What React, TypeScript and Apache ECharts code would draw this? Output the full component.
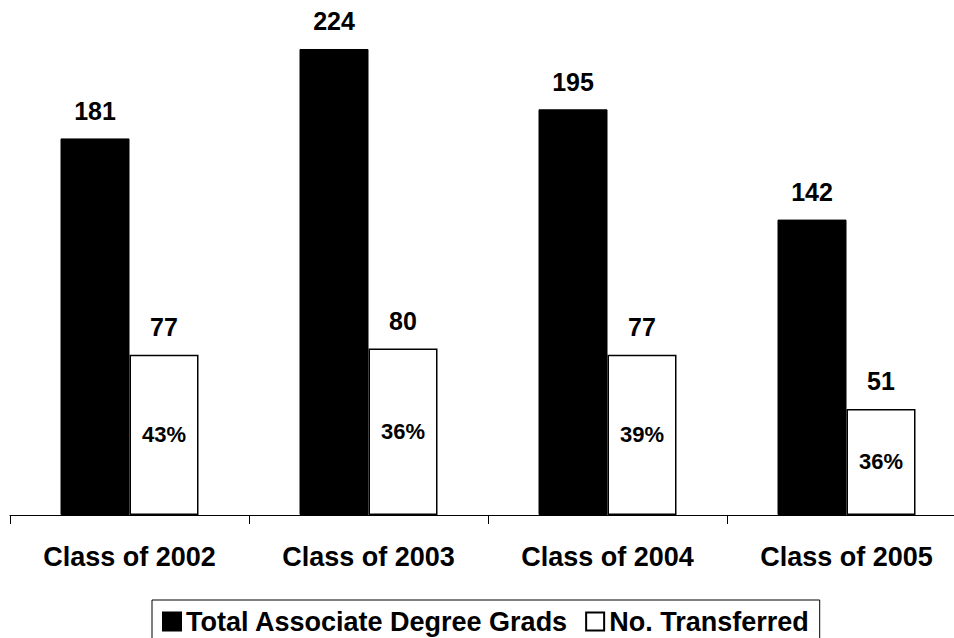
import React, { useEffect, useRef } from "react";
import * as echarts from "echarts";

const categories = ["Class of 2002", "Class of 2003", "Class of 2004", "Class of 2005"];
const totalGrads = [181, 224, 195, 142];
const transferred = [77, 80, 77, 51];
const percentLabels = ["43%", "36%", "39%", "36%"];
const seriesNames = ["Total Associate Degree Grads", "No. Transferred"];

const FONT = "'Liberation Sans', Arial, Helvetica, sans-serif";

export default function App() {
  const ref = useRef<HTMLDivElement>(null);
  useEffect(() => {
    if (!ref.current) return;
    const chart = echarts.init(ref.current, undefined, { renderer: "svg" });
    const valueLabel = {
      show: true,
      position: "top",
      distance: 15,
      color: "#000",
      fontFamily: FONT,
      fontWeight: "bold",
      fontSize: 25,
    };
    chart.setOption({
      animation: false,
      backgroundColor: "#ffffff",
      grid: { left: 10, top: 15.7, width: 956, height: 499.3, containLabel: false },
      xAxis: [
        {
          type: "category",
          data: categories,
          axisLine: { show: true, lineStyle: { color: "#000", width: 1 } },
          axisTick: { show: true, length: 9, alignWithLabel: false, interval: 0, lineStyle: { color: "#000", width: 1 } },
          axisLabel: {
            margin: 28,
            color: "#000",
            fontFamily: FONT,
            fontWeight: "bold",
            fontSize: 27,
          },
        },
        {
          type: "category",
          data: categories,
          show: false,
        },
      ],
      yAxis: {
        type: "value",
        min: 0,
        max: 240,
        show: false,
        splitLine: { show: false },
      },
      legend: {
        data: [
          { name: seriesNames[0], icon: "rect" },
          { name: seriesNames[1], icon: "rect" },
        ],
        left: 152,
        top: 600,
        itemWidth: 18,
        itemHeight: 18,
        itemGap: 17,
        padding: [8, 11, 20, 10],
        borderColor: "#000",
        borderWidth: 1,
        textStyle: {
          color: "#000",
          fontFamily: FONT,
          fontWeight: "bold",
          fontSize: 27,
        },
      },
      series: [
        {
          name: seriesNames[0],
          type: "bar",
          xAxisIndex: 0,
          data: totalGrads,
          barWidth: 69,
          barGap: "0%",
          itemStyle: { color: "#000", borderColor: "#000", borderWidth: 1 },
          label: valueLabel,
        },
        {
          name: seriesNames[1],
          type: "bar",
          xAxisIndex: 0,
          data: transferred,
          barWidth: 69,
          barGap: "0%",
          itemStyle: { color: "#fff", borderColor: "#000", borderWidth: 1.5 },
          label: valueLabel,
        },
        {
          name: "slot",
          type: "bar",
          xAxisIndex: 1,
          data: [0, 0, 0, 0],
          barWidth: 69,
          barGap: "0%",
          silent: true,
          itemStyle: { color: "transparent", borderWidth: 0 },
          label: { show: false },
        },
        {
          name: "pct",
          type: "bar",
          xAxisIndex: 1,
          data: transferred,
          barWidth: 69,
          barGap: "0%",
          silent: true,
          itemStyle: { color: "transparent", borderWidth: 0 },
          label: {
            show: true,
            position: "inside",
            color: "#000",
            fontFamily: FONT,
            fontWeight: "bold",
            fontSize: 22,
            formatter: (p: any) => percentLabels[p.dataIndex],
          },
        },
      ],
    });
    return () => chart.dispose();
  }, []);
  return (
    <div
      style={{
        position: "absolute",
        left: 0,
        top: 0,
        width: 954,
        height: 638,
        overflow: "hidden",
        background: "#fff",
      }}
    >
      <div ref={ref} style={{ width: 990, height: 638 }} />
    </div>
  );
}
